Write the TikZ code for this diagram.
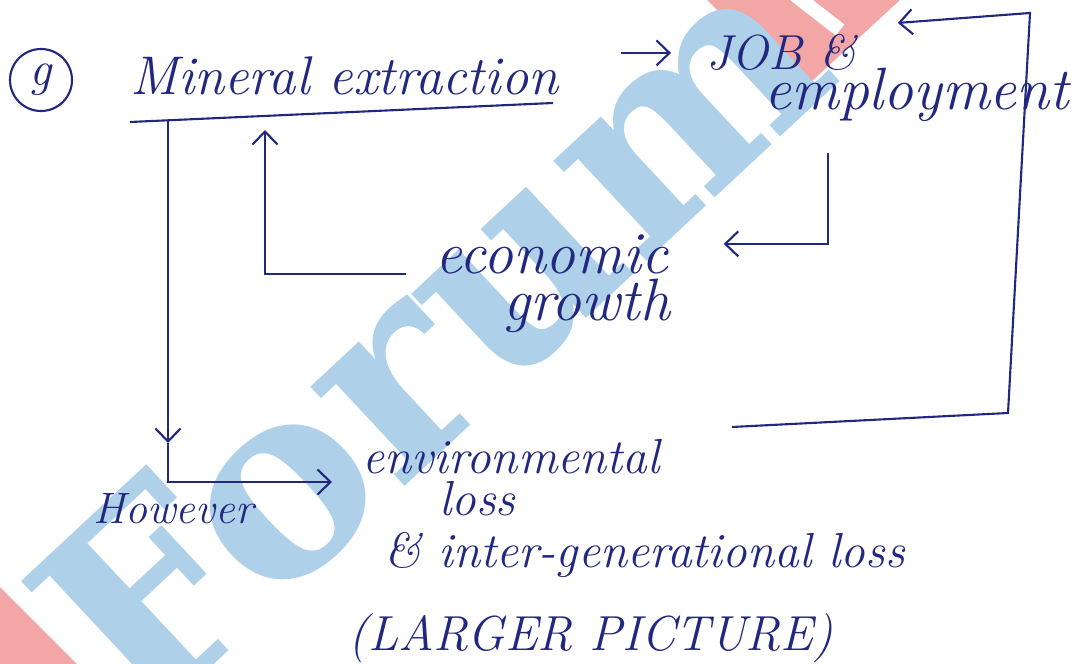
\documentclass[tikz,border=0pt]{standalone}
\usepackage{fontspec}
\newfontfamily\wmfont{DejaVu Serif}
\usetikzlibrary{arrows.meta}
\definecolor{ink}{RGB}{34,40,128}
\definecolor{wmblue}{RGB}{174,208,233}
\definecolor{wmred}{RGB}{243,166,166}
\tikzstyle{hand}=[inner sep=0pt,text=ink,font=\fontsize{28}{30}\selectfont\itshape]
\tikzstyle{bighand}=[hand,font=\fontsize{34}{36}\selectfont\itshape]
\tikzstyle{pen}=[draw=ink,line width=1.2pt]

\begin{document}
\begin{tikzpicture}[>={Straight Barb[length=2.6mm,width=5mm]}]
  \clip (0,0) rectangle (21.5,-13.28);
  \fill[white] (0,0) rectangle (21.5,-13.28);
  \fill[wmred] (14.14,0) -- (18,0) -- (16,-1.84) -- cycle;
  \draw[white,line width=8pt] (15.9,0.1) -- (16.8,-0.6);
  \fill[wmred] (0,-11.74) -- (1.54,-13.28) -- (0,-13.28) -- cycle;
  \node[rotate=43,text=wmblue,font=\fontsize{150}{150}\wmfont\bfseries] (logo) at (8.6,-6.7) {Forum};

  \node[pen,circle,minimum size=1.24cm,hand] (part) at (0.82,-1.6) {g};
  \node[hand,anchor=base west,font=\fontsize{31}{33}\selectfont\itshape] (mineral) at (2.6,-1.9) {Mineral extraction};
  \node[hand,anchor=base west] (job) at (14.12,-1.4) {JOB \&};
  \node[bighand,anchor=base west] (employ) at (15.28,-2.2) {employment};
  \node[bighand,anchor=base west] (econ) at (8.7,-5.46) {economic};
  \node[bighand,anchor=base west] (growth) at (10.06,-6.4) {growth};
  \node[hand,anchor=base west,font=\fontsize{25}{27}\selectfont\itshape] (however) at (1.86,-10.46) {However};
  \node[hand,anchor=base west] (envir) at (7.24,-9.46) {environmental};
  \node[hand,anchor=base west] (loss) at (8.78,-10.3) {loss};
  \node[hand,anchor=base west] (intergen) at (7.68,-11.34) {\& inter-generational loss};
  \node[hand,anchor=base west] (larger) at (6.96,-13.0) {(LARGER PICTURE)};

  \coordinate (ulstart) at (2.6,-2.44);
  \coordinate (ulend) at (11.06,-2.06);
  \coordinate (leftdrop) at (3.36,-2.4);
  \coordinate (leftmid) at (3.36,-8.86);
  \coordinate (econtip) at (5.3,-2.6);
  \coordinate (empdrop) at (16.56,-3.06);
  \coordinate (rbot) at (20.16,-8.26);
  \coordinate (rtop) at (20.6,-0.26);

  \draw[pen] (ulstart) -- (ulend);
  \draw[pen,->,shorten <=1.25cm,shorten >=0.7cm] (mineral.east |- job.west) -- (job.west);
  \draw[pen,->] (leftdrop) -- (leftmid);
  \draw[pen,->] (leftmid) |- ([xshift=-0.6cm,yshift=-0.18cm]envir.base west);
  \draw[pen,->] ([xshift=-0.58cm,yshift=-0.4cm]econ.west) -| (econtip);
  \draw[pen,->] (empdrop) |- ([xshift=1.1cm,yshift=0.2cm]econ.east);
  \draw[pen,->] ([xshift=1.44cm,yshift=0.23cm]envir.north east) -- (rbot) -- (rtop) -- ([xshift=0.82cm,yshift=0.6cm]job.east);
\end{tikzpicture}
\end{document}
